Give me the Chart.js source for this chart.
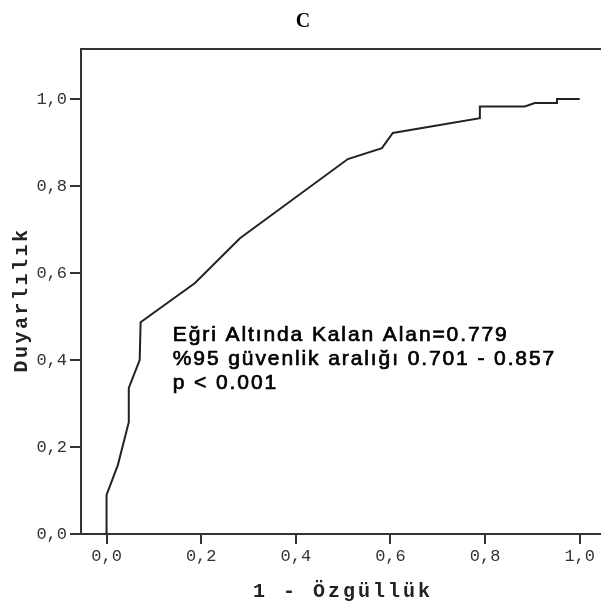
<!DOCTYPE html>
<html>
<head>
<meta charset="utf-8">
<script src="https://cdn.jsdelivr.net/npm/chart.js@4"></script>
<style>
  html, body { margin: 0; padding: 0; background: #fff; overflow: hidden; }
  #wrap { width: 601px; height: 611px; position: relative; }
</style>
</head>
<body>
<div id="wrap"><canvas id="roc"></canvas></div>
<script>
// Data
const fpr = [0, 0, 0.024, 0.047, 0.047, 0.070, 0.072, 0.187, 0.282, 0.510, 0.582, 0.605, 0.789, 0.789, 0.884, 0.905, 0.952, 0.952, 1.0];
const tpr = [0, 0.090, 0.159, 0.257, 0.336, 0.400, 0.487, 0.577, 0.680, 0.862, 0.887, 0.922, 0.956, 0.983, 0.983, 0.991, 0.991, 1.0, 1.0];
const xTicks = [0, 0.2, 0.4, 0.6, 0.8, 1.0];
const yTicks = [0, 0.2, 0.4, 0.6, 0.8, 1.0];

// Texts
const chartTitle = "C";
const xTitle = "1 - Özgüllük";
const yTitle = "Duyarlılık";
const notes = [
  "Eğri Altında Kalan Alan=0.779",
  "%95 güvenlik aralığı 0.701 - 0.857",
  "p < 0.001"
];
const noteX = 0.14;
const noteY = [0.444, 0.389, 0.334];

const axisColor = "#333";
const tickFont = { family: "'Liberation Mono', monospace", size: 17 };

function comma(v) {
  return Number(v).toFixed(1).replace(".", ",");
}

// Draws title, axis titles, top frame line and the note
const extras = {
  id: "extras",
  afterDraw(chart) {
    const ctx = chart.ctx;
    const area = chart.chartArea;
    const xs = chart.scales.x, ys = chart.scales.y;

    ctx.save();
    // top frame
    ctx.strokeStyle = axisColor;
    ctx.lineWidth = 2;
    ctx.beginPath();
    ctx.moveTo(area.left - 1, area.top);
    ctx.lineTo(area.right, area.top);
    ctx.stroke();

    // title
    ctx.fillStyle = "#000";
    ctx.textAlign = "center";
    ctx.textBaseline = "middle";
    ctx.font = "bold 20px 'Liberation Serif', serif";
    ctx.fillText(chartTitle, 303, 22);

    // axis titles
    ctx.fillStyle = "#222";
    ctx.font = "bold 20px 'Liberation Mono', monospace";
    ctx.letterSpacing = "3px";
    ctx.fillText(xTitle, 343, 592);
    ctx.save();
    ctx.translate(22, 300);
    ctx.rotate(-Math.PI / 2);
    ctx.letterSpacing = "2.5px";
    ctx.fillText(yTitle, 0, 0);
    ctx.restore();

    // note (regular face, lightly stroked to thicken)
    ctx.fillStyle = "#000";
    ctx.strokeStyle = "#000";
    ctx.lineWidth = 0.7;
    ctx.textAlign = "left";
    ctx.textBaseline = "alphabetic";
    ctx.font = "21px 'Liberation Sans', Arial, sans-serif";
    ctx.letterSpacing = "1.9px";
    const px = xs.getPixelForValue(noteX);
    notes.forEach((t, i) => {
      const py = ys.getPixelForValue(noteY[i]);
      ctx.fillText(t, px, py);
      ctx.strokeText(t, px, py);
    });
    ctx.restore();
  }
};

const ctx = document.getElementById("roc").getContext("2d");
const chart = new Chart(ctx, {
  type: "scatter",
  data: {
    datasets: [{
      data: fpr.map((x, i) => ({ x: x, y: tpr[i] })),
      showLine: true,
      borderColor: "#222",
      borderWidth: 2,
      pointRadius: 0,
      tension: 0
    }]
  },
  options: {
    responsive: true,
    maintainAspectRatio: false,
    animation: false,
    layout: { padding: { top: 49, right: 0, left: 0, bottom: 0 } },
    plugins: { legend: { display: false }, tooltip: { enabled: false }, title: { display: false } },
    scales: {
      x: {
        type: "linear",
        min: -0.054,
        max: 1.045,
        afterBuildTicks: s => { s.ticks = xTicks.map(v => ({ value: v })); },
        afterFit: s => { s.height = 77; },
        ticks: { callback: comma, color: axisColor, font: tickFont, padding: 2, maxRotation: 0 },
        grid: { drawOnChartArea: false, drawTicks: true, tickLength: 10, color: axisColor, lineWidth: 2 },
        border: { display: true, color: axisColor, width: 2 }
      },
      y: {
        type: "linear",
        min: 0,
        max: 1.115,
        afterBuildTicks: s => { s.ticks = yTicks.map(v => ({ value: v })); },
        afterFit: s => { s.width = 81; },
        ticks: { callback: comma, color: axisColor, font: tickFont, padding: 3 },
        grid: { drawOnChartArea: false, drawTicks: true, tickLength: 11, color: axisColor, lineWidth: 2 },
        border: { display: true, color: axisColor, width: 2 }
      }
    }
  },
  plugins: [extras]
});
</script>
</body>
</html>
